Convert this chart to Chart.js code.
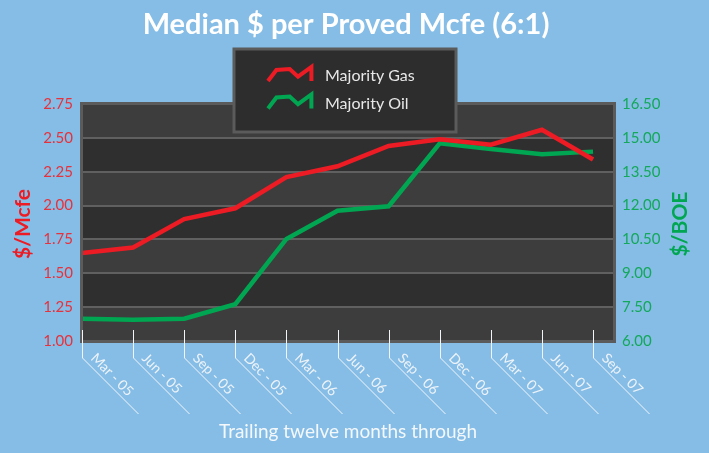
<!DOCTYPE html>
<html>
<head>
<meta charset="utf-8">
<script src="https://cdn.jsdelivr.net/npm/chart.js@4"></script>
<style>
  body { margin: 0; background: #85bde6; }
  #wrap { width: 709px; height: 453px; position: relative; }
</style>
</head>
<body>
<div id="wrap"><canvas id="grafico"></canvas></div>
<script>
// dados
const periods = ['Mar - 05', 'Jun - 05', 'Sep - 05', 'Dec - 05', 'Mar - 06', 'Jun - 06',
                 'Sep - 06', 'Dec - 06', 'Mar - 07', 'Jun - 07', 'Sep - 07'];
const gasMcfe = [1.65, 1.69, 1.90, 1.98, 2.21, 2.29, 2.44, 2.49, 2.45, 2.56, 2.34];
const oilBoe = [6.99, 6.94, 6.99, 7.63, 10.52, 11.77, 11.97, 14.76, 14.51, 14.27, 14.39];
const mcfeTicks = [1.00, 2.75, 0.25];   // min, max, step
const boeTicks = [6.00, 16.50, 1.50];

const RED = '#ed1c24';
const GREEN = '#00a651';

const decor = {
    id: 'decor',
    beforeDraw(chart) {
        const ctx = chart.ctx;
        const a = chart.chartArea;
        const y = chart.scales.y;
        ctx.save();
        ctx.fillStyle = '#3d3d3d';
        ctx.fillRect(a.left, a.top, a.right - a.left, a.bottom - a.top);
        ctx.fillStyle = '#302f30';
        for (let v = 1.25; v < 2.75; v += 0.5) {
            const y1 = y.getPixelForValue(v + 0.25);
            const y2 = y.getPixelForValue(v);
            ctx.fillRect(a.left, y1, a.right - a.left, y2 - y1);
        }
        ctx.restore();
    },
    afterDraw(chart) {
        const ctx = chart.ctx;
        const a = chart.chartArea;
        const x = chart.scales.x;
        ctx.save();

        // moldura
        ctx.strokeStyle = '#5b5b5b';
        ctx.lineWidth = 3;
        ctx.strokeRect(a.left - 0.5, a.top - 0.5, a.right - a.left + 1, a.bottom - a.top + 1);

        // rotulos do eixo x com as linhas diagonais
        ctx.strokeStyle = '#f2f5f8';
        ctx.fillStyle = '#eef3f8';
        ctx.lineWidth = 1;
        ctx.font = '14px Lato';
        periods.forEach((p, i) => {
            const px = Math.round(x.getPixelForValue(i)) + 0.5;
            ctx.beginPath();
            ctx.moveTo(px, a.bottom - 11);
            ctx.lineTo(px, a.bottom + 17);
            ctx.lineTo(px + 56, a.bottom + 73);
            ctx.stroke();
            ctx.save();
            ctx.translate(px, a.bottom + 17);
            ctx.rotate(Math.PI / 4);
            ctx.textAlign = 'left';
            ctx.textBaseline = 'bottom';
            ctx.fillText(p, 6, -2);
            ctx.restore();
        });

        // titulos
        ctx.fillStyle = '#ffffff';
        ctx.textAlign = 'center';
        ctx.textBaseline = 'middle';
        ctx.font = 'bold 29px Lato';
        ctx.fillText('Median $ per Proved Mcfe (6:1)', 346, 25);
        ctx.font = '19px Lato';
        ctx.fillStyle = '#f4f8fb';
        ctx.fillText('Trailing twelve months through', 348, 432);

        ctx.font = 'bold 21px Lato';
        ctx.save();
        ctx.translate(23, 224);
        ctx.rotate(-Math.PI / 2);
        ctx.fillStyle = RED;
        ctx.fillText('$/Mcfe', 0, 0);
        ctx.restore();
        ctx.save();
        ctx.translate(680, 224);
        ctx.rotate(-Math.PI / 2);
        ctx.fillStyle = GREEN;
        ctx.fillText('$/BOE', 0, 0);
        ctx.restore();

        // legenda
        ctx.fillStyle = '#2e2d2e';
        ctx.fillRect(234, 49, 222, 83);
        ctx.strokeStyle = '#5b5b5b';
        ctx.lineWidth = 3;
        ctx.strokeRect(234, 49, 222, 83);
        const icon = [[0, 14], [8.4, 3], [21.7, 2], [30, 9.7], [43.4, 0], [43.4, 14]];
        chart.data.datasets.forEach((ds, k) => {
            const ox = 268, oy = 67 + k * 27.5;
            ctx.beginPath();
            icon.forEach((pt, j) => {
                if (j === 0) ctx.moveTo(ox + pt[0], oy + pt[1]);
                else ctx.lineTo(ox + pt[0], oy + pt[1]);
            });
            ctx.strokeStyle = ds.borderColor;
            ctx.lineWidth = 4;
            ctx.lineJoin = 'miter';
            ctx.stroke();
            ctx.fillStyle = '#e8e8e8';
            ctx.font = '16px Lato';
            ctx.textAlign = 'left';
            ctx.textBaseline = 'middle';
            ctx.fillText(ds.label, 325, oy + 9);
        });
        ctx.restore();
    }
};

new Chart(document.getElementById('grafico'), {
    type: 'line',
    data: {
        datasets: [
            {
                label: 'Majority Gas',
                data: gasMcfe.map((v, i) => ({x: i, y: v})),
                borderColor: RED,
                borderWidth: 4.5,
                pointRadius: 0,
                tension: 0,
                yAxisID: 'y'
            },
            {
                label: 'Majority Oil',
                data: oilBoe.map((v, i) => ({x: i, y: v})),
                borderColor: GREEN,
                borderWidth: 4.5,
                pointRadius: 0,
                tension: 0,
                yAxisID: 'y2'
            }
        ]
    },
    options: {
        responsive: true,
        maintainAspectRatio: false,
        animation: false,
        layout: { padding: { top: 104, bottom: 112, left: 0, right: 0 } },
        plugins: {
            legend: { display: false },
            title: { display: false },
            tooltip: { enabled: false }
        },
        scales: {
            x: {
                type: 'linear',
                display: false,
                min: 0,
                max: 10.41
            },
            y: {
                position: 'left',
                min: mcfeTicks[0],
                max: mcfeTicks[1],
                afterFit(scale) { scale.width = 82; },
                border: { display: false },
                grid: { color: '#606060', lineWidth: 2, drawTicks: false },
                ticks: {
                    stepSize: mcfeTicks[2],
                    padding: 9,
                    color: '#e6323c',
                    font: { family: 'Lato', size: 15 },
                    callback: v => v.toFixed(2)
                }
            },
            y2: {
                position: 'right',
                min: boeTicks[0],
                max: boeTicks[1],
                afterFit(scale) { scale.width = 95; },
                border: { display: false },
                grid: { display: false, drawTicks: false },
                ticks: {
                    stepSize: boeTicks[2],
                    padding: 8,
                    color: '#14a85a',
                    font: { family: 'Lato', size: 15 },
                    callback: v => v.toFixed(2)
                }
            }
        }
    },
    plugins: [decor]
});
</script>
</body>
</html>
